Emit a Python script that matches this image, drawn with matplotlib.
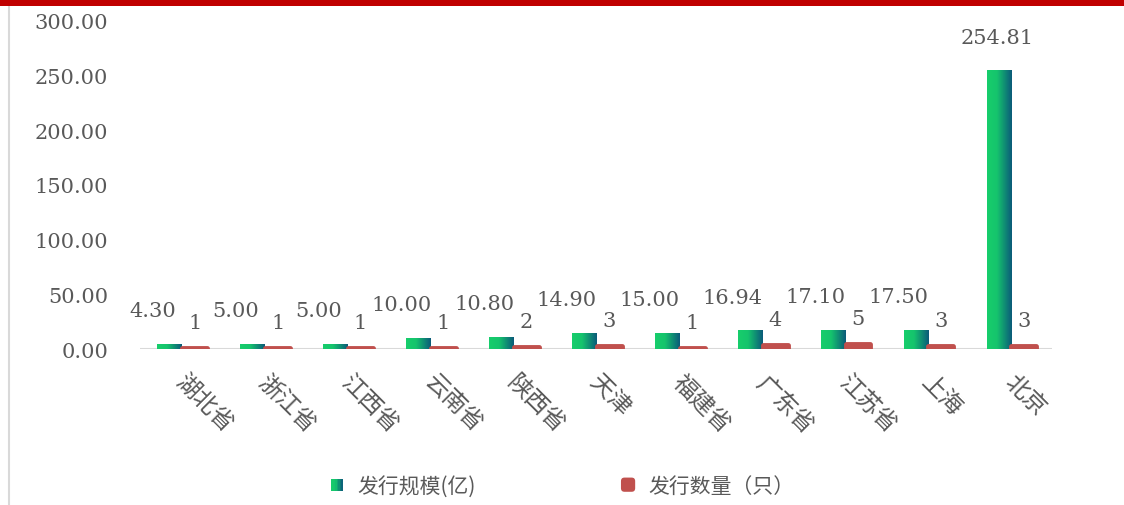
import numpy as np
import matplotlib
matplotlib.use("Agg")
import matplotlib.pyplot as plt
from matplotlib.colors import LinearSegmentedColormap
from matplotlib.patches import Rectangle, FancyBboxPatch
from matplotlib.legend_handler import HandlerBase
from matplotlib.lines import Line2D
import matplotlib.transforms as mtransforms

# ---- data ----
categories = ["湖北省", "浙江省", "江西省", "云南省", "陕西省", "天津", "福建省", "广东省", "江苏省", "上海", "北京"]
scale_values = [4.30, 5.00, 5.00, 10.00, 10.80, 14.90, 15.00, 16.94, 17.10, 17.50, 254.81]
count_values = [1, 1, 1, 1, 2, 3, 1, 4, 5, 3, 3]
yticks = [0, 50, 100, 150, 200, 250, 300]
series_names = ["发行规模(亿)", "发行数量（只）"]

GREEN_L = "#17CE6B"
GREEN_R = "#0B5B7A"
RED = "#C0504D"
TXT = "#595959"
NUMFONT = ["DejaVu Serif", "Noto Sans CJK SC"]
CJKFONT = ["Noto Sans CJK SC", "DejaVu Sans"]
NUMSIZE = 15

cmap = LinearSegmentedColormap.from_list("g", [(0, GREEN_L), (0.4, "#15C46D"), (1, GREEN_R)])

W, H = 1124, 506
fig = plt.figure(figsize=(W / 100, H / 100), dpi=100)
ax = fig.add_axes([140 / W, 1 - 350 / H, (1052 - 140) / W, (350 - 22) / H])

x = np.arange(len(categories))
gw = 0.29
rw = 0.30

# green bars (gradient)
gbars = ax.bar(x - gw / 2, scale_values, width=gw, color="none", edgecolor="none", zorder=3)
grad = np.linspace(0, 1, 64).reshape(1, -1)
for b in gbars:
    x0, w, h = b.get_x(), b.get_width(), b.get_height()
    im = ax.imshow(grad, cmap=cmap, extent=[x0, x0 + w, 0, h], aspect="auto",
                   origin="lower", zorder=3, interpolation="bilinear")
    im.set_clip_path(b)

# red bars (rounded)
rbars = ax.bar(x + rw / 2 + 0.01, count_values, width=rw, color=RED, edgecolor=RED,
               linewidth=3.5, joinstyle="round", zorder=4)

ax.set_xlim(-0.5, len(categories) - 0.5)
ax.set_ylim(0, 300)

# axis line
ax.axhline(0, color="#D9D9D9", linewidth=2.2, zorder=2)
for s in ax.spines.values():
    s.set_visible(False)
ax.set_yticks(yticks)
ax.set_yticklabels([f"{v:.2f}" for v in yticks], fontfamily=NUMFONT, fontsize=NUMSIZE, color=TXT)
ax.tick_params(axis="y", length=0, pad=23)
ax.set_xticks([])

# value labels
for i, (sv, cv) in enumerate(zip(scale_values, count_values)):
    shift = -0.35 if sv < 50 else -0.16
    ax.annotate(f"{sv:.2f}", xy=(i + shift, sv), xytext=(0, 24), textcoords="offset points",
                ha="center", va="center", fontfamily=NUMFONT, fontsize=NUMSIZE, color=TXT, zorder=5)
    ax.annotate(f"{cv}", xy=(i + rw / 2 + 0.01, cv), xytext=(0, 18), textcoords="offset points",
                ha="center", va="center", fontfamily=NUMFONT, fontsize=NUMSIZE, color=TXT, zorder=5)

# category labels
trans = mtransforms.blended_transform_factory(ax.transData, ax.transAxes)
for i, c in enumerate(categories):
    ax.annotate(c, xy=(i, 0), xycoords=trans, xytext=(-2, -21), textcoords="offset points",
                rotation=-45, rotation_mode="anchor", ha="left", va="center",
                fontfamily=CJKFONT, fontsize=17, color=TXT)


# legend handlers
class GradHandler(HandlerBase):
    def create_artists(self, legend, orig_handle, xdescent, ydescent, width, height, fontsize, trans):
        s = min(width, height) * 0.9
        x0 = -xdescent + (width - s) / 2
        y0 = -ydescent + (height - s) / 2
        n = 8
        arts = []
        for k in range(n):
            r = Rectangle((x0 + k * s / n, y0), s / n + 0.3, s, facecolor=cmap((k + 0.5) / n),
                          edgecolor="none", transform=trans)
            arts.append(r)
        return arts


class RoundHandler(HandlerBase):
    def create_artists(self, legend, orig_handle, xdescent, ydescent, width, height, fontsize, trans):
        s = min(width, height) * 1.05
        x0 = -xdescent + (width - s) / 2
        y0 = -ydescent + (height - s) / 2
        p = FancyBboxPatch((x0, y0), s, s, boxstyle=f"round,pad=0,rounding_size={s*0.25}",
                           facecolor=RED, edgecolor="none", transform=trans)
        return [p]


h1 = Rectangle((0, 0), 1, 1)
h2 = Rectangle((0, 0), 1, 1)
leg = fig.legend([h1, h2], series_names, handler_map={h1: GradHandler(), h2: RoundHandler()},
                 loc="center left", bbox_to_anchor=(330 / W, 1 - 487 / H), ncol=2, frameon=False,
                 prop={"family": CJKFONT, "size": 15}, columnspacing=7.0, handlelength=0.65,
                 handletextpad=0.65, handleheight=0.65, borderpad=0, borderaxespad=0)
for t in leg.get_texts():
    t.set_color(TXT)

# frame decorations
fig.patches.append(Rectangle((0, 1 - 7 / H), 1, 7 / H, transform=fig.transFigure,
                             facecolor="#C00000", edgecolor="none", zorder=10))
fig.lines.append(Line2D([8.5 / W, 8.5 / W], [0, 1 - 7 / H], transform=fig.transFigure,
                        color="#D9D9D9", linewidth=1.5))

fig.savefig("out.png", dpi=100)
